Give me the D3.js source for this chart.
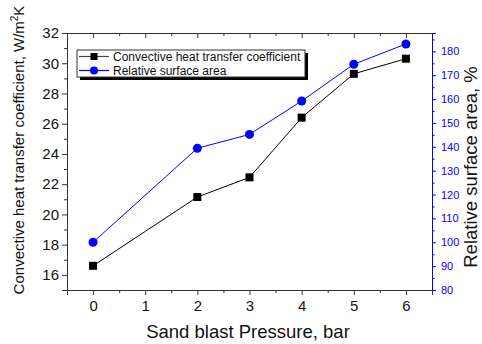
<!DOCTYPE html>
<html lang="en">

<head>
  <meta charset="UTF-8" />
  <title>Sand blast chart</title>
  <script src="https://d3js.org/d3.v7.min.js"></script>
  <style>
    body {
      margin: 0;
      background-color: #fff;
    }

    svg text {
      font-family: "Liberation Sans", Arial, sans-serif;
    }
  </style>
</head>

<body>
  <svg id="chart" width="482" height="344"></svg>

  <script>
    // data
    const pressure = [0, 2, 3, 4, 5, 6];
    const heatCoef = [16.6, 21.15, 22.45, 26.4, 29.3, 30.3];
    const relArea = [100, 139.4, 145.2, 159.2, 174.6, 183.1];

    const xTicks = [0, 1, 2, 3, 4, 5, 6];
    const leftTicks = [16, 18, 20, 22, 24, 26, 28, 30, 32];
    const rightTicks = [80, 90, 100, 110, 120, 130, 140, 150, 160, 170, 180];

    const svg = d3.select("#chart");
    const margin = { top: 33, right: 50, bottom: 54, left: 67 };
    const width = svg.attr("width") - margin.left - margin.right;
    const height = svg.attr("height") - margin.top - margin.bottom;

    const x = d3.scaleLinear().domain([-0.5, 6.5]).range([0, width]);
    const yL = d3.scaleLinear().domain([15, 32]).range([height, 0]);
    const yR = d3.scaleLinear().domain([80, 187.7]).range([height, 0]);

    const g = svg.append("g")
      .attr("transform", `translate(${margin.left},${margin.top})`);

    const axisCol = "#333";
    const blue = "#0000ff";

    // bottom axis (outside ticks)
    g.append("g")
      .attr("transform", `translate(0,${height})`)
      .call(d3.axisBottom(x).tickValues(xTicks).tickSize(5).tickPadding(5).tickFormat(d3.format("d")));
    g.append("g")
      .attr("transform", `translate(0,${height})`)
      .call(d3.axisBottom(x).tickValues(d3.range(-0.5, 6.6, 1)).tickSize(3).tickFormat(""));

    // top axis (inside ticks)
    g.append("g")
      .call(d3.axisTop(x).tickValues(xTicks).tickSize(-5).tickFormat(""));
    g.append("g")
      .call(d3.axisTop(x).tickValues(d3.range(-0.5, 6.6, 1)).tickSize(-3).tickFormat(""));

    // left axis
    g.append("g")
      .call(d3.axisLeft(yL).tickValues(leftTicks).tickSize(5).tickPadding(3));
    g.append("g")
      .call(d3.axisLeft(yL).tickValues(d3.range(17, 32, 2)).tickSize(3).tickFormat(""));

    // right axis (blue)
    g.append("g")
      .attr("class", "right")
      .attr("transform", `translate(${width},0)`)
      .call(d3.axisRight(yR).tickValues(rightTicks).tickSize(4).tickPadding(5));
    g.append("g")
      .attr("class", "right")
      .attr("transform", `translate(${width},0)`)
      .call(d3.axisRight(yR).tickValues(d3.range(85, 186, 10)).tickSize(2.5).tickFormat(""));

    g.selectAll(".domain").attr("stroke", axisCol);
    g.selectAll(".tick line").attr("stroke", axisCol);
    g.selectAll(".tick text")
      .attr("fill", "#111")
      .style("font-size", "15px")
      .style("font-family", "'Liberation Sans', Arial, sans-serif");
    g.selectAll(".right .domain, .right .tick line").attr("stroke", blue);
    g.selectAll(".right .tick text").attr("fill", blue).style("font-size", "11px");

    // lines
    const lineL = d3.line().x((d, i) => x(pressure[i])).y(d => yL(d));
    const lineR = d3.line().x((d, i) => x(pressure[i])).y(d => yR(d));

    g.append("path").datum(heatCoef)
      .attr("d", lineL).attr("fill", "none").attr("stroke", "#000").attr("stroke-width", 1);
    g.append("path").datum(relArea)
      .attr("d", lineR).attr("fill", "none").attr("stroke", blue).attr("stroke-width", 1);

    const sq = 8;
    g.selectAll("rect.pt").data(heatCoef).join("rect")
      .attr("class", "pt")
      .attr("x", (d, i) => x(pressure[i]) - sq / 2)
      .attr("y", d => yL(d) - sq / 2)
      .attr("width", sq).attr("height", sq)
      .attr("fill", "#000");

    g.selectAll("circle.pt").data(relArea).join("circle")
      .attr("class", "pt")
      .attr("cx", (d, i) => x(pressure[i]))
      .attr("cy", d => yR(d))
      .attr("r", 4.5)
      .attr("fill", blue);

    // legend
    const leg = svg.append("g").attr("transform", "translate(77,50)");
    leg.append("rect").attr("x", 3).attr("y", 3).attr("width", 228).attr("height", 27).attr("fill", "#000");
    leg.append("rect").attr("x", 0).attr("y", 0).attr("width", 228).attr("height", 27)
      .attr("fill", "#fff").attr("stroke", "#333").attr("stroke-width", 1);

    const legItems = [
      { label: "Convective heat transfer coefficient", color: "#000", line: "#444", shape: "square" },
      { label: "Relative surface area", color: blue, line: blue, shape: "circle" }
    ];
    legItems.forEach((it, i) => {
      const cy = 6.5 + i * 14;
      leg.append("line").attr("x1", 2).attr("x2", 32).attr("y1", cy).attr("y2", cy)
        .attr("stroke", it.line).attr("stroke-width", 1.2);
      if (it.shape === "square") {
        leg.append("rect").attr("x", 17 - 3.5).attr("y", cy - 3.5).attr("width", 7).attr("height", 7).attr("fill", it.color);
      } else {
        leg.append("circle").attr("cx", 17).attr("cy", cy).attr("r", 4).attr("fill", it.color);
      }
      leg.append("text").attr("x", 36).attr("y", cy + 4.2)
        .style("font-size", "12px").attr("fill", "#111").text(it.label);
    });

    // axis titles
    svg.append("text")
      .attr("x", 248).attr("y", 338)
      .attr("text-anchor", "middle")
      .style("font-size", "18.5px").attr("fill", "#111")
      .text("Sand blast Pressure, bar");

    const lt = svg.append("text")
      .attr("transform", "translate(24,150) rotate(-90)")
      .attr("text-anchor", "middle")
      .style("font-size", "15px").attr("fill", "#111");
    lt.append("tspan").text("Convective heat transfer coefficient, W/m");
    lt.append("tspan").attr("dy", -6).style("font-size", "10px").text("2");
    lt.append("tspan").attr("dy", 6).text("K");

    svg.append("text")
      .attr("transform", "translate(477,167) rotate(-90)")
      .attr("text-anchor", "middle")
      .style("font-size", "18.5px").attr("fill", "#111")
      .text("Relative surface area, %");
  </script>
</body>

</html>
